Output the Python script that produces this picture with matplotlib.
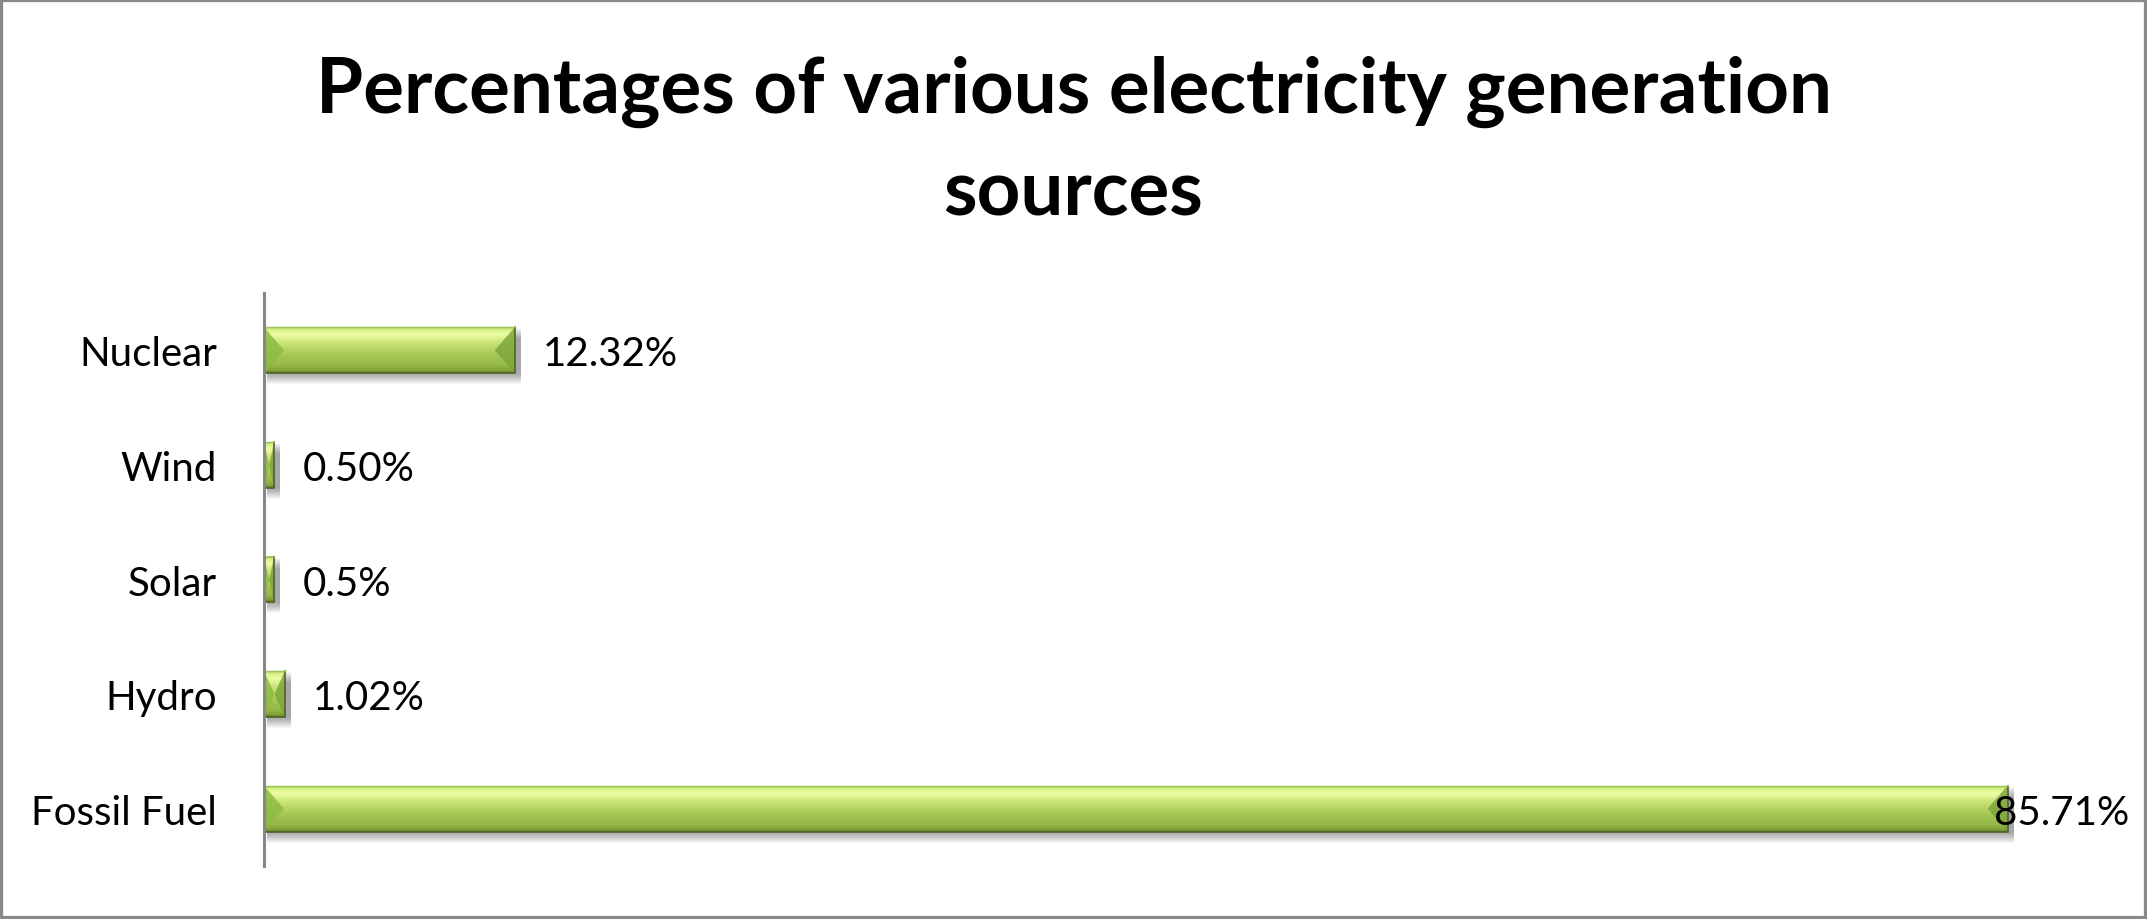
import numpy as np
import matplotlib
matplotlib.use("Agg")
import matplotlib.pyplot as plt
from matplotlib.colors import LinearSegmentedColormap
from matplotlib.patches import Rectangle, Polygon

categories = ["Fossil Fuel", "Hydro", "Solar", "Wind", "Nuclear"]
values = [85.71, 1.02, 0.5, 0.5, 12.32]
value_labels = ["85.71%", "1.02%", "0.5%", "0.50%", "12.32%"]
title_lines = ["Percentages of various electricity generation", "sources"]

plt.rcParams['font.family'] = ['Lato', 'DejaVu Sans']

fig = plt.figure(figsize=(21.47, 9.2), dpi=100)
ax = fig.add_axes([0.123, 0.0576, 0.8527, 0.6228])
ax.set_xlim(0, 90)
ax.set_ylim(-0.5, 4.5)

# size of one pixel in data units
p0 = ax.transData.inverted().transform((0, 0))
p1 = ax.transData.inverted().transform((1, 1))
px_x = p1[0] - p0[0]
px_y = p1[1] - p0[1]

bar_h = 0.4
bar_cmap = LinearSegmentedColormap.from_list("bar", [
    (0.0, "#a9cc5a"), (0.05, "#d6f08a"), (0.16, "#edfda4"), (0.35, "#c8e374"),
    (0.6, "#a8c856"), (0.85, "#93b645"), (0.95, "#7f9f38"), (1.0, "#5a7627")])
grad = np.linspace(0, 1, 256).reshape(-1, 1)

for i, v in enumerate(values):
    x0, x1 = 0, v
    y0, y1 = i - bar_h / 2, i + bar_h / 2
    yc = i

    # soft shadow
    for k in range(1, 12):
        ax.add_patch(Rectangle((x0 + 3 * px_x, y0 - k * px_y), v + 3 * px_x,
                               bar_h, color="black", alpha=0.035, lw=0, zorder=1))

    ax.imshow(grad, extent=(x0, x1, y0, y1), origin="upper", aspect="auto",
              cmap=bar_cmap, interpolation="bilinear", zorder=2)

    b = min(20 * px_x, v / 2)
    ax.add_patch(Polygon([(x0, y1), (x0, y0), (x0 + b, yc)], closed=True,
                         facecolor="#8dbb43", edgecolor="none", alpha=0.85, zorder=3))
    ax.add_patch(Polygon([(x1, y1), (x1, y0), (x1 - b, yc)], closed=True,
                         facecolor="#7ea63a", edgecolor="none", alpha=0.85, zorder=3))
    # dark edges
    ax.plot([x0, x1, x1], [y0, y0, y1], color="#4f6228", lw=1.2, zorder=4)
    ax.plot([x0, x1], [y1, y1], color="#9dc24f", lw=1.0, zorder=4)

ax.set_xlim(0, 90)
ax.set_ylim(-0.5, 4.5)

ax.set_yticks(range(len(categories)), categories)
ax.tick_params(axis="y", length=0, pad=34, labelsize=29)
ax.set_xticks([])
for s in ["top", "right", "bottom"]:
    ax.spines[s].set_visible(False)
ax.spines["left"].set_color("#868686")
ax.spines["left"].set_linewidth(2.2)
ax.spines["left"].set_zorder(5)

# data labels, pulled back inside the chart when they would run off the edge
fig.canvas.draw()
renderer = fig.canvas.get_renderer()
W = fig.bbox.width
for i, (v, lab) in enumerate(zip(values, value_labels)):
    t = ax.annotate(lab, (v, i), xytext=(28, 0), textcoords="offset pixels",
                    va="center_baseline", ha="left", fontsize=29, zorder=6,
                    annotation_clip=False)
    bb = t.get_window_extent(renderer)
    if bb.x1 > W - 18:
        t.set_position((28 - (bb.x1 - (W - 18)), 0))

fig.text(0.5, 1 - 113 / 920, title_lines[0], ha="center", va="baseline",
         fontsize=55, fontweight="bold")
fig.text(0.5, 1 - 215 / 920, title_lines[1], ha="center", va="baseline",
         fontsize=55, fontweight="bold")

fig.patches.append(Rectangle((0, 0), 1, 1, transform=fig.transFigure, fill=False,
                             edgecolor="#898989", lw=4.5))

fig.savefig("out.png", dpi=100)
